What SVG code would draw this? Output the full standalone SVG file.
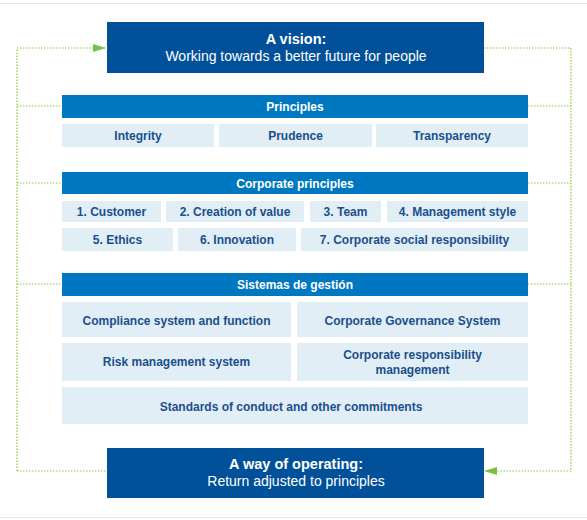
<svg xmlns="http://www.w3.org/2000/svg" width="587" height="520" viewBox="0 0 587 520">
<defs>
<style>
.dark{fill:#00519a;}
.hdr{fill:#0078c1;}
.item{fill:#e1eef5;}
.t{font-family:"Liberation Sans",Arial,sans-serif;text-anchor:middle;}
.tw{fill:#ffffff;font-weight:bold;font-size:12px;}
.ti{fill:#1b4f8e;font-weight:bold;font-size:12px;}
.big{fill:#ffffff;font-weight:bold;font-size:14.5px;}
.sub{fill:#ffffff;font-size:14px;}
.conn{fill:none;stroke:#8cc63f;stroke-width:1.2;stroke-dasharray:1.5 1.5;}
</style>
<marker id="arr" viewBox="0 0 13 8" refX="13" refY="4" markerWidth="13" markerHeight="8" markerUnits="userSpaceOnUse" orient="auto">
<path d="M0,0 L13,4 L0,8 Z" fill="#7ac143"/>
</marker>
</defs>
<rect width="587" height="520" fill="#ffffff"/>
<line x1="0" y1="3.5" x2="587" y2="3.5" stroke="#e6e6e6" stroke-width="1"/>
<line x1="0" y1="517.5" x2="587" y2="517.5" stroke="#e6e6e6" stroke-width="1"/>

<g id="connectors">
<path class="conn" d="M17,471 L17,48 L106,48" marker-end="url(#arr)"/>
<path class="conn" d="M17,471 L107,471"/>
<path class="conn" d="M484,48 L571,48 L571,471 L484,471" marker-end="url(#arr)"/>
<path class="conn" d="M17,106 L62,106"/>
<path class="conn" d="M528,106 L571,106"/>
<path class="conn" d="M17,183 L62,183"/>
<path class="conn" d="M528,183 L571,183"/>
<path class="conn" d="M17,284 L62,284"/>
<path class="conn" d="M528,284 L571,284"/>
</g>

<g id="vision">
<rect class="dark" x="107" y="22" width="377" height="51"/>
<text class="t big" x="296" y="44">A vision:</text>
<text class="t sub" x="296" y="61">Working towards a better future for people</text>
</g>

<g id="principles">
<rect class="hdr" x="62" y="95" width="466" height="23"/>
<text class="t tw" x="295" y="111">Principles</text>
</g>
<g id="integrity"><rect class="item" x="62" y="124" width="152" height="23"/><text class="t ti" x="138" y="140">Integrity</text></g>
<g id="prudence"><rect class="item" x="219" y="124" width="153" height="23"/><text class="t ti" x="295.5" y="140">Prudence</text></g>
<g id="transparency"><rect class="item" x="376" y="124" width="152" height="23"/><text class="t ti" x="452" y="140">Transparency</text></g>

<g id="corporate-principles">
<rect class="hdr" x="62" y="172" width="466" height="22"/>
<text class="t tw" x="295" y="188">Corporate principles</text>
</g>
<g id="customer"><rect class="item" x="62" y="201" width="99" height="21"/><text class="t ti" x="111.5" y="216">1. Customer</text></g>
<g id="creation"><rect class="item" x="166" y="201" width="138" height="21"/><text class="t ti" x="235" y="216">2. Creation of value</text></g>
<g id="team"><rect class="item" x="310" y="201" width="71" height="21"/><text class="t ti" x="345.5" y="216">3. Team</text></g>
<g id="management-style"><rect class="item" x="387" y="201" width="141" height="21"/><text class="t ti" x="457.5" y="216">4. Management style</text></g>
<g id="ethics"><rect class="item" x="62" y="228" width="111" height="23"/><text class="t ti" x="117.5" y="244">5. Ethics</text></g>
<g id="innovation"><rect class="item" x="178" y="228" width="118" height="23"/><text class="t ti" x="237" y="244">6. Innovation</text></g>
<g id="csr"><rect class="item" x="301" y="228" width="227" height="23"/><text class="t ti" x="414.5" y="244">7. Corporate social responsibility</text></g>

<g id="sistemas">
<rect class="hdr" x="62" y="273" width="466" height="23"/>
<text class="t tw" x="295" y="289">Sistemas de gestión</text>
</g>
<g id="compliance"><rect class="item" x="62" y="302" width="229" height="35"/><text class="t ti" x="176.5" y="325">Compliance system and function</text></g>
<g id="governance"><rect class="item" x="297" y="302" width="231" height="35"/><text class="t ti" x="412.5" y="325">Corporate Governance System</text></g>
<g id="risk"><rect class="item" x="62" y="343" width="229" height="38"/><text class="t ti" x="176.5" y="366">Risk management system</text></g>
<g id="cr-management"><rect class="item" x="297" y="343" width="231" height="38"/><text class="t ti" x="412.5" y="359">Corporate responsibility</text><text class="t ti" x="412.5" y="374">management</text></g>
<g id="standards"><rect class="item" x="62" y="387" width="466" height="37"/><text class="t ti" x="291" y="411">Standards of conduct and other commitments</text></g>

<g id="operating">
<rect class="dark" x="107" y="448" width="377" height="50"/>
<text class="t big" x="296" y="469">A way of operating:</text>
<text class="t sub" x="296" y="486">Return adjusted to principles</text>
</g>
</svg>
